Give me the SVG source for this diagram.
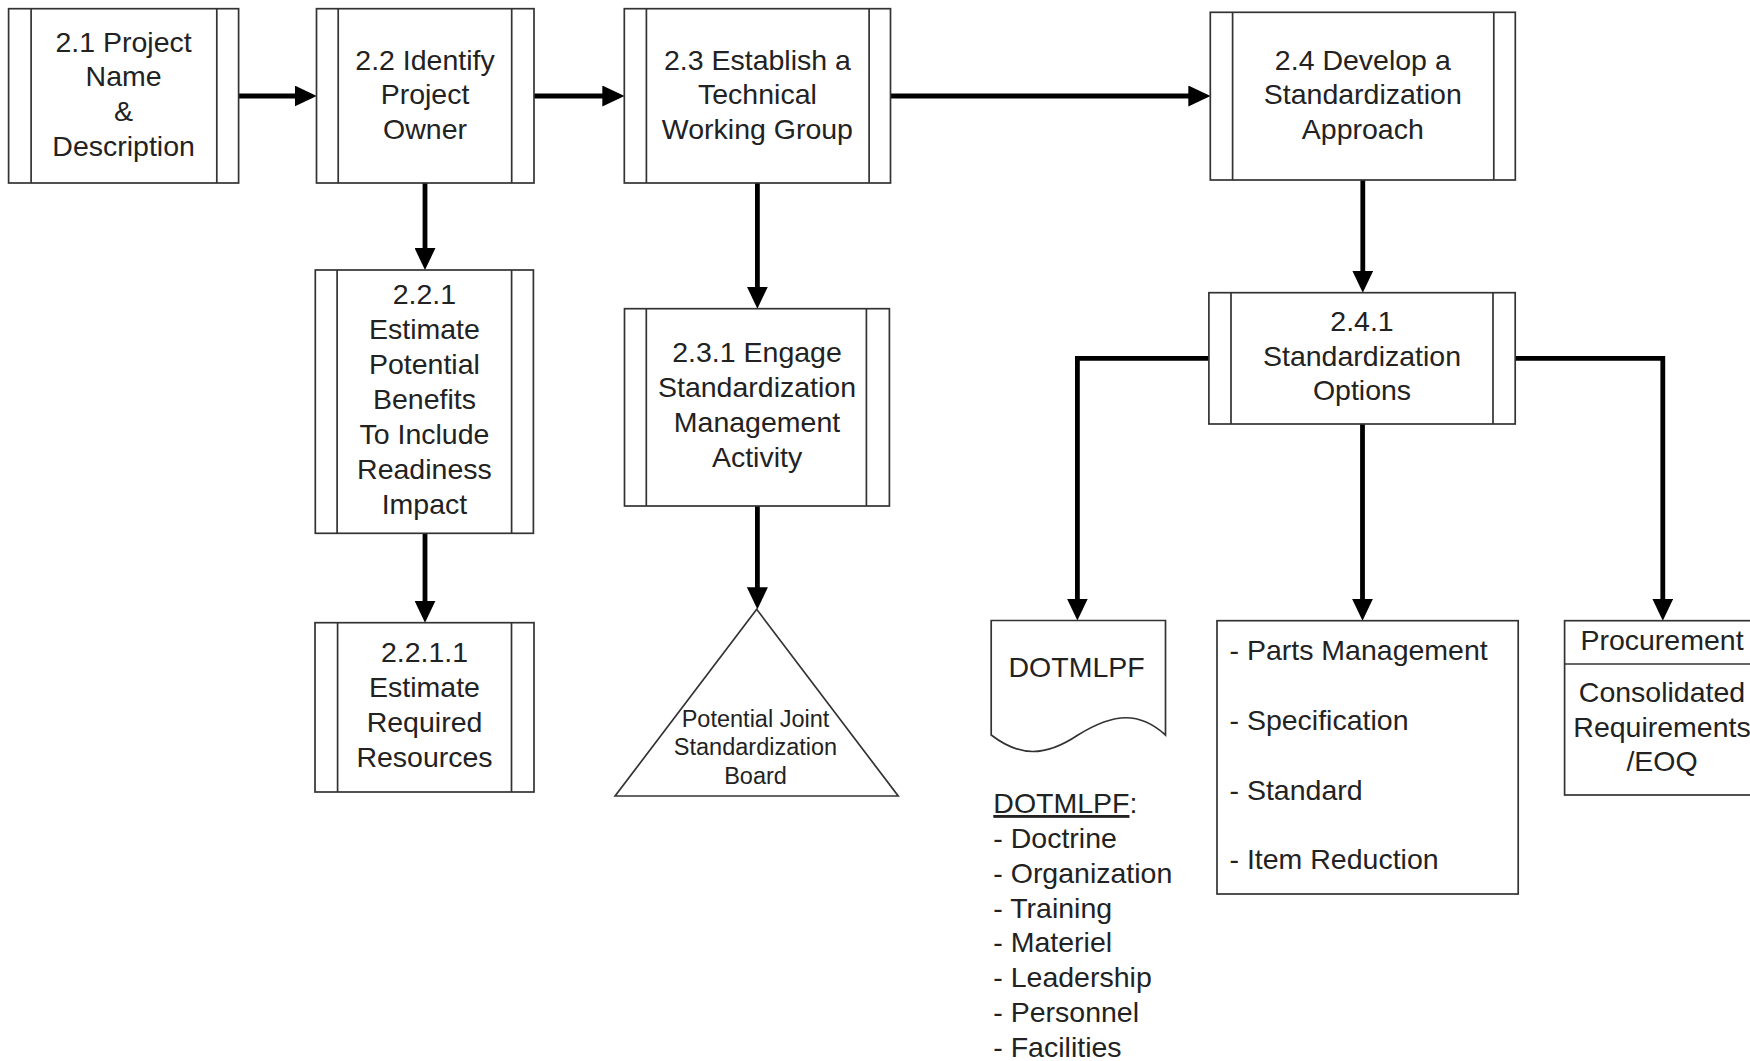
<svg xmlns="http://www.w3.org/2000/svg" width="1750" height="1061" viewBox="0 0 1750 1061">
<style>
.box{fill:#fff;stroke:#333;stroke-width:1.7}
.bar{stroke:#333;stroke-width:1.7;fill:none}
.t{font-family:"Liberation Sans",Arial,sans-serif;font-size:28.5px;fill:#222;text-anchor:middle}
.tl{font-family:"Liberation Sans",Arial,sans-serif;font-size:28.5px;fill:#222;text-anchor:start}
.ts{font-family:"Liberation Sans",Arial,sans-serif;font-size:23.5px;fill:#222;text-anchor:middle}
.c{fill:none;stroke:#000;stroke-width:4.8;marker-end:url(#ah)}
</style>
<defs>
<marker id="ah" markerUnits="userSpaceOnUse" markerWidth="22" markerHeight="21" refX="10" refY="10.5" orient="auto">
<path d="M0,0 L22,10.5 L0,21 Z" fill="#000"/>
</marker>
</defs>
<rect width="1750" height="1061" fill="#fff"/>

<g id="connectors">
<path class="c" d="M238.6,96 H304.7"/>
<path class="c" d="M534,96 H612.3"/>
<path class="c" d="M890.5,96 H1198.3"/>
<path class="c" d="M425,183 V258"/>
<path class="c" d="M425,533.3 V610.7"/>
<path class="c" d="M757.4,183 V296.7"/>
<path class="c" d="M757.4,506 V597.3"/>
<path class="c" d="M1362.8,180 V280.7"/>
<path class="c" d="M1208.9,358.3 H1077.4 V608.5"/>
<path class="c" d="M1362.5,424 V608.7"/>
<path class="c" d="M1515.2,358.3 H1662.8 V608.7"/>
</g>

<g id="n21">
<rect class="box" x="8.6" y="8.7" width="230" height="174.3"/>
<path class="bar" d="M31.1,8.7 V183 M216.8,8.7 V183"/>
<text class="t" transform="translate(123.6,51.7)"><tspan x="0" y="0">2.1 Project</tspan><tspan x="0" y="34.7">Name</tspan><tspan x="0" y="69.4">&amp;</tspan><tspan x="0" y="104.1">Description</tspan></text>
</g>

<g id="n22">
<rect class="box" x="316.5" y="8.7" width="217.5" height="174.3"/>
<path class="bar" d="M338.2,8.7 V183 M511.7,8.7 V183"/>
<text class="t" transform="translate(425,69.5)"><tspan x="0" y="0">2.2 Identify</tspan><tspan x="0" y="34.7">Project</tspan><tspan x="0" y="69.4">Owner</tspan></text>
</g>

<g id="n23">
<rect class="box" x="624.3" y="8.7" width="266.2" height="174.3"/>
<path class="bar" d="M646.4,8.7 V183 M869.1,8.7 V183"/>
<text class="t" transform="translate(757.4,69.5)"><tspan x="0" y="0">2.3 Establish a</tspan><tspan x="0" y="34.7">Technical</tspan><tspan x="0" y="69.4">Working Group</tspan></text>
</g>

<g id="n24">
<rect class="box" x="1210.3" y="12.3" width="305" height="167.7"/>
<path class="bar" d="M1232.6,12.3 V180 M1493.8,12.3 V180"/>
<text class="t" transform="translate(1362.8,69.5)"><tspan x="0" y="0">2.4 Develop a</tspan><tspan x="0" y="34.7">Standardization</tspan><tspan x="0" y="69.4">Approach</tspan></text>
</g>

<g id="n221">
<rect class="box" x="315.3" y="270" width="218.1" height="263.3"/>
<path class="bar" d="M337.1,270 V533.3 M511.6,270 V533.3"/>
<text class="t" transform="translate(424.4,304)"><tspan x="0" y="0">2.2.1</tspan><tspan x="0" y="35">Estimate</tspan><tspan x="0" y="70">Potential</tspan><tspan x="0" y="105">Benefits</tspan><tspan x="0" y="140">To Include</tspan><tspan x="0" y="175">Readiness</tspan><tspan x="0" y="210">Impact</tspan></text>
</g>

<g id="n2211">
<rect class="box" x="315" y="622.7" width="219" height="169.3"/>
<path class="bar" d="M337.6,622.7 V792 M511.5,622.7 V792"/>
<text class="t" transform="translate(424.5,661.7)"><tspan x="0" y="0">2.2.1.1</tspan><tspan x="0" y="35">Estimate</tspan><tspan x="0" y="70">Required</tspan><tspan x="0" y="105">Resources</tspan></text>
</g>

<g id="n231">
<rect class="box" x="624.5" y="308.7" width="264.9" height="197.3"/>
<path class="bar" d="M646.3,308.7 V506 M866.4,308.7 V506"/>
<text class="t" transform="translate(757,361.7)"><tspan x="0" y="0">2.3.1 Engage</tspan><tspan x="0" y="35">Standardization</tspan><tspan x="0" y="70">Management</tspan><tspan x="0" y="105">Activity</tspan></text>
</g>

<g id="board">
<polygon class="box" points="756.7,609.3 615.1,796 898.2,796"/>
<text class="ts" transform="translate(755.5,726.7)"><tspan x="0" y="0">Potential Joint</tspan><tspan x="0" y="28.6">Standardization</tspan><tspan x="0" y="57.2">Board</tspan></text>
</g>

<g id="n241">
<rect class="box" x="1208.9" y="292.7" width="306.3" height="131.3"/>
<path class="bar" d="M1231,292.7 V424 M1493,292.7 V424"/>
<text class="t" transform="translate(1362,331)"><tspan x="0" y="0">2.4.1</tspan><tspan x="0" y="34.7">Standardization</tspan><tspan x="0" y="69.4">Options</tspan></text>
</g>

<g id="dotmlpf">
<path class="box" d="M991.2,620.5 H1165.5 V735 C1140,712 1115,712 1078,735 C1045,757 1020,757 991.2,735 Z"/>
<text class="t" transform="translate(1076.6,677.3)">DOTMLPF</text>
</g>

<g id="dotmlpf-list">
<text class="tl" transform="translate(993.3,813)"><tspan x="0" y="0" text-decoration="underline">DOTMLPF</tspan><tspan>:</tspan><tspan x="0" y="35.3">- Doctrine</tspan><tspan x="0" y="70">- Organization</tspan><tspan x="0" y="104.7">- Training</tspan><tspan x="0" y="139.4">- Materiel</tspan><tspan x="0" y="174.1">- Leadership</tspan><tspan x="0" y="208.8">- Personnel</tspan><tspan x="0" y="243.5">- Facilities</tspan></text>
</g>

<g id="parts">
<rect class="box" x="1217" y="620.7" width="301.2" height="273.3"/>
<text class="tl" transform="translate(1229.5,660)"><tspan x="0" y="0">- Parts Management</tspan><tspan x="0" y="69.8">- Specification</tspan><tspan x="0" y="139.5">- Standard</tspan><tspan x="0" y="209.3">- Item Reduction</tspan></text>
</g>

<g id="procurement">
<rect class="box" x="1564.6" y="620.7" width="196" height="174.3"/>
<path class="bar" d="M1564.6,664 H1760"/>
<text class="t" transform="translate(1662,650)">Procurement</text>
<text class="t" transform="translate(1662,701.7)"><tspan x="0" y="0">Consolidated</tspan><tspan x="0" y="35">Requirements</tspan><tspan x="0" y="69">/EOQ</tspan></text>
</g>
</svg>
